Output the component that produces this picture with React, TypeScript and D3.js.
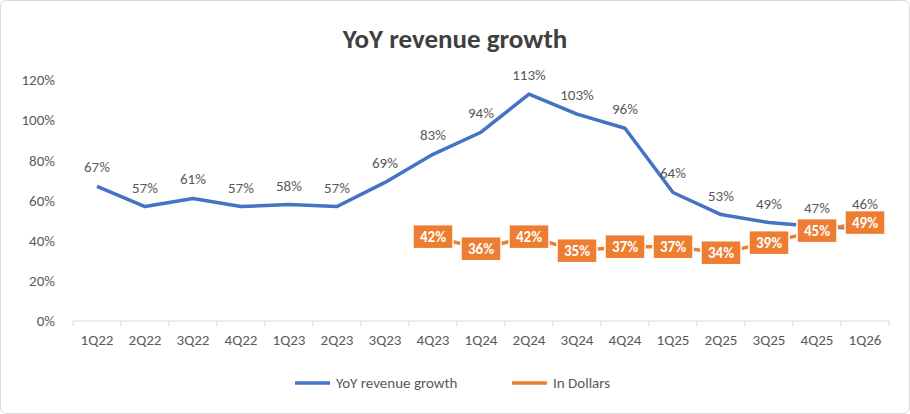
import * as d3 from 'd3';

const categories = ['1Q22','2Q22','3Q22','4Q22','1Q23','2Q23','3Q23','4Q23','1Q24','2Q24','3Q24','4Q24','1Q25','2Q25','3Q25','4Q25','1Q26'];
const yoyGrowth = [67,57,61,57,58,57,69,83,94,113,103,96,64,53,49,47,46];
const inDollars: (number | null)[] = [null,null,null,null,null,null,null,42,36,42,35,37,37,34,39,45,49];
const yTicks = [0,20,40,60,80,100,120];

const W = 910, H = 414;
const blue = '#4472C4', orange = '#ED7D31';
const font = 'Calibri, Carlito, "Liberation Sans", sans-serif';

export default function App() {
  const x = d3.scaleBand().domain(categories).range([73, 889]);
  const y = d3.scaleLinear().domain([0, 120]).range([321, 80]);
  const cx = (c: string) => x(c)! + x.bandwidth() / 2;
  const line = d3.line<number>().x((_, i) => cx(categories[i])).y((d) => y(d));
  const orangePts = inDollars.map((v, i) => ({ v, c: categories[i] })).filter((d) => d.v !== null) as { v: number; c: string }[];
  const oLine = d3.line<{ v: number; c: string }>().x((d) => cx(d.c)).y((d) => y(d.v));
  return (
    <svg width={W} height={H} style={{ position: 'absolute', left: 0, top: 0, fontFamily: font }}>
      <rect x={0.5} y={0.5} width={W - 1} height={H - 1} rx={6} fill="#fff" stroke="#d9d9d9" />
      <text x={W / 2} y={48} textAnchor="middle" fontSize={27} fontWeight="bold" fill="#404040">YoY revenue growth</text>
      {yTicks.map((t) => (
        <text key={t} x={55} y={y(t)} dy="0.35em" textAnchor="end" fontSize={15} fill="#595959">{t}%</text>
      ))}
      <line x1={73} x2={889} y1={y(0)} y2={y(0)} stroke="#d9d9d9" />
      {categories.map((c, i) => (
        <g key={c}>
          <line x1={x(c)!} x2={x(c)!} y1={y(0)} y2={y(0) + 5} stroke="#d9d9d9" />
          {i === categories.length - 1 && <line x1={889} x2={889} y1={y(0)} y2={y(0) + 5} stroke="#d9d9d9" />}
          <text x={cx(c)} y={y(0) + 24} textAnchor="middle" fontSize={15} fill="#595959">{c}</text>
        </g>
      ))}
      <path d={line(yoyGrowth)!} fill="none" stroke={blue} strokeWidth={3.5} strokeLinejoin="round" />
      {yoyGrowth.map((v, i) => (
        <text key={i} x={cx(categories[i])} y={y(v) - (i === yoyGrowth.length - 1 ? 20 : 14)} textAnchor="middle" fontSize={15} fill="#595959">{v}%</text>
      ))}
      <path d={oLine(orangePts)!} fill="none" stroke={orange} strokeWidth={3.5} />
      {orangePts.map((d) => (
        <g key={d.c}>
          <rect x={cx(d.c) - 20} y={y(d.v) - 12} width={40} height={24} fill={orange} stroke="#fff" strokeWidth={1.5} />
          <text x={cx(d.c)} y={y(d.v)} dy="0.35em" textAnchor="middle" fontSize={15} fontWeight="bold" fill="#fff">{d.v}%</text>
        </g>
      ))}
      <line x1={295} x2={330} y1={383} y2={383} stroke={blue} strokeWidth={3.5} />
      <text x={336} y={383} dy="0.35em" fontSize={15} fill="#595959">YoY revenue growth</text>
      <line x1={512} x2={547} y1={383} y2={383} stroke={orange} strokeWidth={3.5} />
      <text x={553} y={383} dy="0.35em" fontSize={15} fill="#595959">In Dollars</text>
    </svg>
  );
}
